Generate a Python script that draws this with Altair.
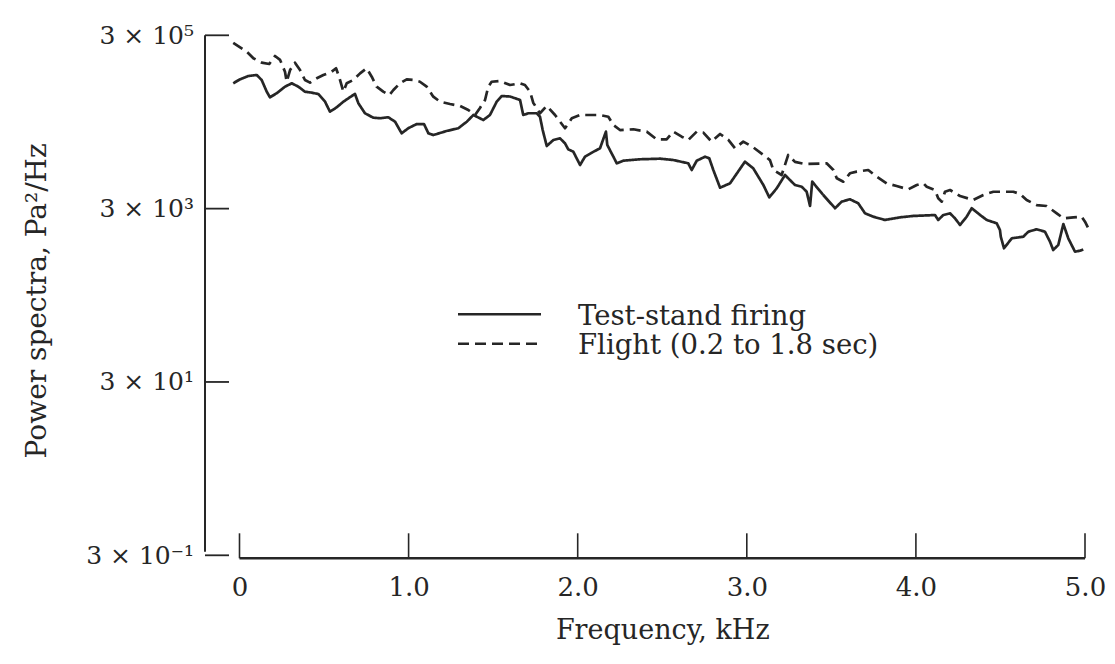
import altair as alt
import pandas as pd

# ---------------- data ----------------
series_names = ["Test-stand firing", "Flight (0.2 to 1.8 sec)"]

test_khz = [-0.037, 0.003, 0.052, 0.102, 0.131, 0.161, 0.180, 0.220, 0.269, 0.309,
            0.348, 0.387, 0.427, 0.466, 0.506, 0.535, 0.575, 0.614, 0.664, 0.683,
            0.703, 0.742, 0.791, 0.831, 0.880, 0.920, 0.959, 0.998, 1.048, 1.091,
            1.117, 1.146, 1.225, 1.294, 1.344, 1.383, 1.442, 1.481, 1.521, 1.551,
            1.600, 1.659, 1.678, 1.708, 1.758, 1.777, 1.793, 1.817, 1.856, 1.895,
            1.925, 1.944, 1.974, 2.014, 2.043, 2.083, 2.132, 2.167, 2.175, 2.211,
            2.231, 2.270, 2.368, 2.487, 2.565, 2.654, 2.674, 2.704, 2.753, 2.778,
            2.802, 2.842, 2.901, 2.989, 3.038, 3.098, 3.133, 3.177, 3.226, 3.255,
            3.285, 3.325, 3.354, 3.374, 3.387, 3.452, 3.522, 3.561, 3.610, 3.659,
            3.699, 3.748, 3.817, 3.906, 3.985, 4.113, 4.132, 4.162, 4.202, 4.231,
            4.261, 4.300, 4.330, 4.380, 4.419, 4.478, 4.497, 4.502, 4.521, 4.567,
            4.635, 4.665, 4.714, 4.763, 4.793, 4.812, 4.842, 4.872, 4.901, 4.941,
            4.970, 4.990]
test_psd = [83800, 93200, 101700, 104500, 91500, 67100, 57800, 64300, 76600, 83800,
            76600, 67100, 65300, 63100, 51400, 39400, 44300, 51400, 59800, 63100,
            49300, 37800, 33600, 33100, 34000, 30200, 22200, 25400, 28400, 28400,
            22200, 21200, 23600, 25400, 30200, 36100, 31600, 36100, 51400, 59800,
            59000, 53800, 36100, 37800, 37800, 34500, 24200, 15840, 18580, 19440,
            17020, 14510, 13620, 9560, 11920, 13260, 14910, 23200, 16270, 11920,
            10000, 10720, 11130, 11310, 10920, 10000, 8370, 10720, 11920, 11430,
            8370, 5230, 5880, 10440, 8760, 5620, 4050, 5150, 7330, 6420,
            5620, 5370, 4700, 3220, 6140, 4310, 3030, 3610, 3850, 3460,
            2650, 2420, 2220, 2380, 2470, 2530, 2220, 2530, 2650, 2320,
            1943, 2420, 3030, 2530, 2220, 2030, 1701, 1423, 1046, 1364,
            1423, 1626, 1733, 1626, 1246, 1000, 1142, 1994, 1364, 955,
            981, 1010]

flight_khz = [-0.037, 0.043, 0.082, 0.131, 0.176, 0.210, 0.240, 0.269, 0.279, 0.299,
              0.328, 0.358, 0.387, 0.417, 0.457, 0.496, 0.545, 0.571, 0.590, 0.614,
              0.634, 0.673, 0.713, 0.752, 0.782, 0.811, 0.850, 0.886, 0.910, 0.949,
              0.989, 1.028, 1.067, 1.107, 1.146, 1.186, 1.245, 1.304, 1.353, 1.393,
              1.422, 1.452, 1.471, 1.491, 1.540, 1.600, 1.659, 1.688, 1.718, 1.737,
              1.777, 1.817, 1.866, 1.925, 1.965, 2.014, 2.132, 2.181, 2.211, 2.250,
              2.329, 2.408, 2.467, 2.526, 2.565, 2.615, 2.654, 2.704, 2.743, 2.792,
              2.842, 2.891, 2.930, 2.979, 3.038, 3.098, 3.137, 3.157, 3.206, 3.245,
              3.285, 3.344, 3.472, 3.512, 3.532, 3.571, 3.610, 3.650, 3.718, 3.768,
              3.827, 3.886, 3.955, 4.005, 4.044, 4.064, 4.113, 4.132, 4.153, 4.172,
              4.202, 4.261, 4.339, 4.399, 4.458, 4.576, 4.616, 4.655, 4.714, 4.773,
              4.833, 4.872, 4.931, 4.980, 5.000, 5.020]
flight_psd = [246000, 194000, 163000, 145000, 140000, 173000, 156000, 114000, 87400, 119000,
              145000, 119000, 91500, 85200, 95700, 104500, 114000, 125000, 98300, 67100,
              83800, 91500, 109000, 125000, 99900, 76600, 67100, 61400, 70100, 83800,
              93200, 91500, 87400, 76600, 58700, 51400, 48300, 45900, 41200, 36100,
              43500, 53800, 76600, 87400, 89100, 80100, 83800, 80100, 67100, 50100,
              37800, 45900, 36100, 25400, 33100, 36100, 36100, 34500, 27700, 24200,
              24700, 23200, 18900, 18900, 23200, 20300, 18600, 23200, 22600, 17800,
              21800, 18600, 14900, 17800, 15300, 12500, 10900, 8370, 7330, 12500,
              10400, 9820, 10000, 8370, 6720, 6140, 7670, 8010, 8370, 7010,
              5880, 5470, 5010, 5620, 5880, 5370, 4920, 3950, 3610, 4700,
              4920, 4200, 3770, 4310, 4700, 4700, 4430, 3770, 3300, 3220,
              2650, 2320, 2380, 2420, 2120, 1780]

y_tick_values = [0.3, 30, 3000, 300000]
y_tick_labels = ["3 × 10⁻¹", "3 × 10¹", "3 × 10³", "3 × 10⁵"]
x_tick_values = [0, 1, 2, 3, 4, 5]
x_tick_labels = ["0", "1.0", "2.0", "3.0", "4.0", "5.0"]

# ---------------- build tables ----------------
df = pd.concat([
    pd.DataFrame({"khz": test_khz, "psd": test_psd, "series": series_names[0]}),
    pd.DataFrame({"khz": flight_khz, "psd": flight_psd, "series": series_names[1]}),
], ignore_index=True)

FONT = "DejaVu Serif"
INK = "#262626"
W, H = 845.5, 520


def label_expr(values, labels):
    parts = [f"abs(datum.value - {v}) < {abs(v) * 1e-6 + 1e-12} ? '{l}' : "
             for v, l in zip(values, labels)]
    return "".join(parts) + "''"


xscale = alt.Scale(domain=[x_tick_values[0], x_tick_values[-1]], nice=False, zero=False)
yscale = alt.Scale(type="log", domain=[y_tick_values[0], y_tick_values[-1]], nice=False)

x_axis = alt.Axis(values=x_tick_values, labelExpr=label_expr(x_tick_values, x_tick_labels),
                  domain=False, ticks=False, grid=False, labelPadding=19, labelFlush=False,
                  labelFont=FONT, labelFontSize=26, labelColor=INK,
                  title="Frequency, kHz", titleFont=FONT, titleFontSize=27,
                  titleFontWeight="normal", titleColor=INK, titleY=75,
                  titleBaseline="middle")
y_axis = alt.Axis(values=y_tick_values, labelExpr=label_expr(y_tick_values, y_tick_labels),
                  domain=False, ticks=False, grid=False, labelPadding=46, labelFlush=False,
                  labelFont=FONT, labelFontSize=25, labelColor=INK,
                  title="Power spectra, Pa²/Hz", titleFont=FONT, titleFontSize=28,
                  titleFontWeight="normal", titleColor=INK, titleAngle=-90,
                  titleX=-202, titleY=265, titleBaseline="middle", titleAlign="center")

lines = alt.Chart(df).mark_line(strokeWidth=2.7, color=INK, strokeJoin="round").encode(
    x=alt.X("khz:Q", scale=xscale, axis=x_axis),
    y=alt.Y("psd:Q", scale=yscale, axis=y_axis),
    strokeDash=alt.StrokeDash("series:N",
                              scale=alt.Scale(domain=series_names, range=[[1, 0], [11, 6]]),
                              legend=None),
)

# frame: y axis line with inward ticks, x axis line with upward ticks
one = pd.DataFrame({"v": [0]})
ytick_df = pd.DataFrame({"psd": y_tick_values})
xtick_df = pd.DataFrame({"khz": x_tick_values})
xline_df = pd.DataFrame({"khz": [x_tick_values[0]], "khz_end": [x_tick_values[-1]]})

y_line = alt.Chart(one).mark_rule(color=INK, strokeWidth=2).encode(
    x=alt.value(-34.5), y=alt.value(0), y2=alt.value(516.4))
y_ticks = alt.Chart(ytick_df).mark_rule(color=INK, strokeWidth=1.8).encode(
    y=alt.Y("psd:Q", scale=yscale, axis=y_axis), x=alt.value(-34.5), x2=alt.value(-10.5))
x_line = alt.Chart(xline_df).mark_rule(color=INK, strokeWidth=2.4).encode(
    x=alt.X("khz:Q", scale=xscale, axis=x_axis), x2="khz_end:Q", y=alt.value(523))
x_ticks = alt.Chart(xtick_df).mark_rule(color=INK, strokeWidth=1.6).encode(
    x=alt.X("khz:Q", scale=xscale, axis=x_axis), y=alt.value(498), y2=alt.value(523))

# legend drawn inside the plot
legend_layers = []
dashes = [[1, 0], [11, 6]]
for i, name in enumerate(series_names):
    ldf = pd.DataFrame({"series": [name]})
    yy = 279 + 29.5 * i
    legend_layers.append(
        alt.Chart(ldf).mark_rule(color=INK, strokeWidth=2.6, strokeDash=dashes[i]).encode(
            x=alt.value(218.5), x2=alt.value(301.5), y=alt.value(yy)))
    legend_layers.append(
        alt.Chart(ldf).mark_text(align="left", baseline="middle", font=FONT, fontSize=27.5,
                                 color=INK).encode(
            text="series:N", x=alt.value(338.5), y=alt.value(yy + 2.5)))

chart = alt.layer(lines, y_line, y_ticks, x_line, x_ticks, *legend_layers).properties(
    width=W, height=H,
    autosize=alt.AutoSizeParams(type="none"),
    padding={"left": 239.5, "top": 35.3, "right": 1115 - 239.5 - W, "bottom": 664 - 35.3 - H},
    background="white",
).configure_view(stroke="transparent")

chart.save("out.html", embed_options={"renderer": "svg", "actions": False})
